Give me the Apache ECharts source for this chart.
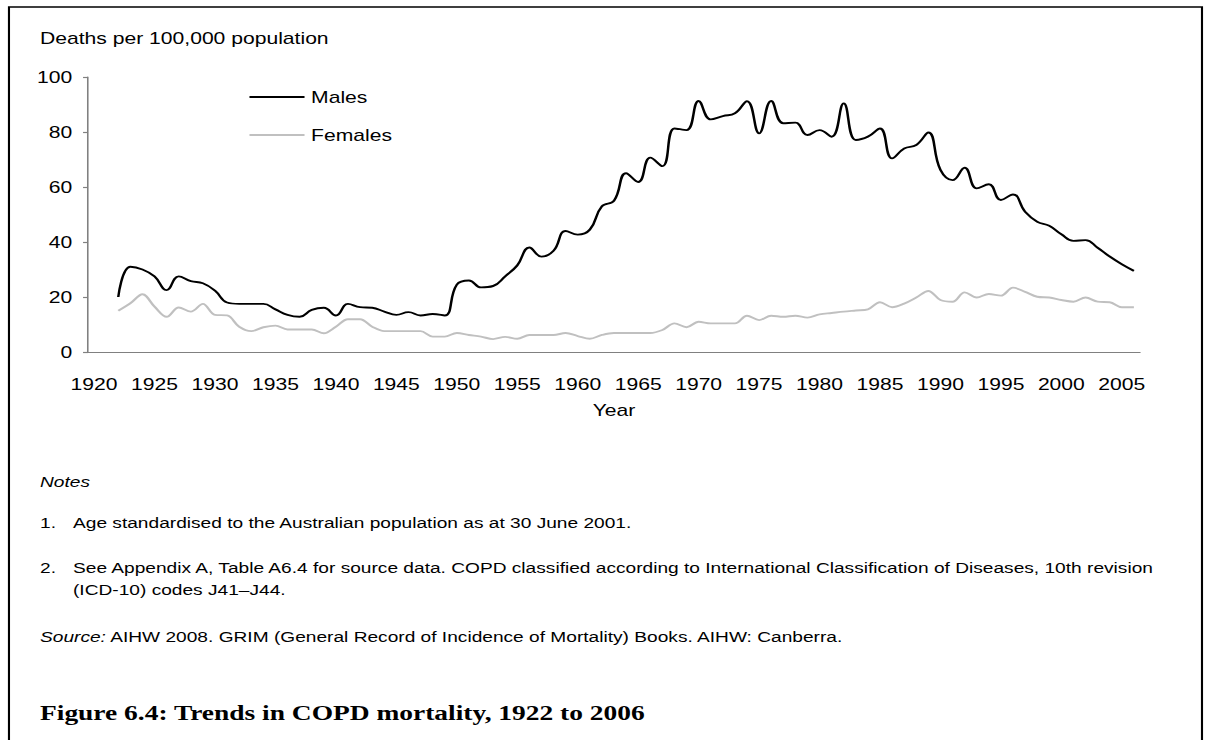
<!DOCTYPE html>
<html>
<head>
<meta charset="utf-8">
<script src="https://cdn.jsdelivr.net/npm/echarts@6/dist/echarts.min.js"></script>
<style>
  html, body { margin: 0; padding: 0; background: #fff; overflow: hidden; }
  /* the source figure is stretched sideways, so draw narrow and widen it */
  #chart { width: 916px; height: 740px; transform: scaleX(1.32); transform-origin: 0 0; }
</style>
</head>
<body>
<div id="chart"></div>
<script>
const years = [];
for (let y = 1920; y <= 2006; y++) years.push(String(y));

// deaths per 100,000, 1922 to 2006 (1920-21 have no data)
const males = [null, null,
  20, 31, 30, 27.5, 22.5, 27.5, 25.8, 25, 22.3, 18,
  17.5, 17.5, 17.5, 15.5, 13.5, 12.8, 15.3, 16.1, 13.3, 17.5,
  16.3, 16.1, 14.7, 13.5, 14.5, 13.3, 13.8, 13.3, 24.5, 26,
  23.5, 24, 27.5, 31.5, 38, 34.7, 36.8, 44, 42.7, 44.5,
  53, 55, 65, 61.8, 70.7, 67.6, 81.3, 80.7, 91.3, 84.6,
  85.8, 86.8, 91.2, 79.5, 91.3, 83.2, 83.4, 78.9, 80.7, 78.3,
  90.4, 77.1, 78.3, 81.3, 70.4, 74, 75.3, 79.8, 66.2, 62.5,
  67, 59.5, 61, 55.3, 57.3, 51, 47.4, 45.9, 42.8, 40.4,
  40.7, 37.9, 34.7, 31.9, 29.5];
const females = [null, null,
  15, 17.7, 21, 16.5, 12.8, 16.2, 14.7, 17.5, 13.5, 13.3,
  9.2, 7.6, 9, 9.6, 8.2, 8.2, 8.2, 6.8, 9.2, 11.9,
  11.9, 9.2, 7.6, 7.6, 7.6, 7.6, 5.6, 5.6, 6.9, 6.2,
  5.6, 4.7, 5.5, 4.8, 6.2, 6.2, 6.2, 6.9, 5.8, 4.8,
  6.2, 6.9, 6.9, 6.9, 6.9, 8, 10.4, 9, 11, 10.4,
  10.4, 10.4, 13.2, 11.6, 13.2, 12.8, 13.2, 12.5, 13.7, 14.2,
  14.7, 15.1, 15.5, 18.1, 16.3, 17.6, 19.8, 22.2, 18.9, 18.3,
  21.7, 19.8, 21.1, 20.5, 23.4, 21.9, 20.1, 19.8, 18.9, 18.3,
  19.8, 18.3, 18.1, 16.3, 16.3];
const yTicks = [0, 20, 40, 60, 80, 100];

const FONT = '"Liberation Sans", Arial, sans-serif';
const noteStyle = (text, extra) => Object.assign({
  text: text, fontSize: 14.5, fontFamily: FONT, fill: '#000', verticalAlign: 'middle'
}, extra || {});

const chart = echarts.init(document.getElementById('chart'), null, { renderer: 'svg' });

chart.setOption({
  animation: false,
  backgroundColor: '#fff',
  textStyle: { fontFamily: FONT, color: '#000' },
  grid: { left: 66.7, right: 52.4, top: 77, bottom: 388 },
  legend: {
    orient: 'vertical',
    left: 184,
    top: 84,
    icon: 'rect',
    itemWidth: 41.7,
    itemHeight: 1.8,
    itemGap: 22,
    textStyle: { fontSize: 16, fontFamily: FONT, color: '#000', lineHeight: 16 },
    data: ['Males', 'Females']
  },
  xAxis: {
    type: 'category',
    data: years,
    boundaryGap: true,
    name: 'Year',
    nameLocation: 'middle',
    nameGap: 50,
    nameTextStyle: { fontSize: 16, fontFamily: FONT, color: '#000' },
    axisLine: { lineStyle: { color: '#808080', width: 1.2 } },
    axisTick: { interval: 4, length: 5, lineStyle: { color: '#808080', width: 1 } },
    axisLabel: { interval: 4, margin: 24, fontSize: 16, fontFamily: FONT, color: '#000' },
    splitLine: { show: false }
  },
  yAxis: {
    type: 'value',
    min: yTicks[0],
    max: yTicks[yTicks.length - 1],
    interval: 20,
    axisLine: { show: true, lineStyle: { color: '#808080', width: 1.2 } },
    axisTick: { show: true, length: 3.8, lineStyle: { color: '#808080', width: 1.2 } },
    axisLabel: { margin: 12, fontSize: 16, fontFamily: FONT, color: '#000' },
    splitLine: { show: false }
  },
  series: [
    {
      name: 'Males',
      type: 'line',
      data: males,
      smooth: 0.45,
      showSymbol: false,
      color: '#000',
      lineStyle: { color: '#000', width: 1.9 }
    },
    {
      name: 'Females',
      type: 'line',
      data: females,
      smooth: 0.35,
      showSymbol: false,
      color: '#c0c0c0',
      lineStyle: { color: '#c0c0c0', width: 1.9 }
    }
  ],
  graphic: [
    {
      type: 'polyline',
      shape: { points: [[6.8, 745], [6.8, 7], [910.6, 7], [910.6, 745]] },
      style: { stroke: '#000', lineWidth: 1.6, fill: null }
    },
    { type: 'text', x: 30.3, y: 38, style: noteStyle('Deaths per 100,000 population', { fontSize: 16 }) },
    { type: 'text', x: 30.3, y: 482, style: noteStyle('Notes', { fontStyle: 'italic' }) },
    { type: 'text', x: 30.3, y: 523, style: noteStyle('1.') },
    { type: 'text', x: 55.3, y: 523, style: noteStyle('Age standardised to the Australian population as at 30 June 2001.') },
    { type: 'text', x: 30.3, y: 568, style: noteStyle('2.') },
    { type: 'text', x: 55.3, y: 568, style: noteStyle('See Appendix A, Table A6.4 for source data. COPD classified according to International Classification of Diseases, 10th revision') },
    { type: 'text', x: 55.3, y: 590, style: noteStyle('(ICD-10) codes J41\u2013J44.') },
    {
      type: 'text', x: 30.3, y: 637,
      style: noteStyle('{i|Source:} AIHW 2008. GRIM (General Record of Incidence of Mortality) Books. AIHW: Canberra.', {
        rich: { i: { fontStyle: 'italic', fontSize: 14.5, fontFamily: FONT, fill: '#000' } }
      })
    },
    {
      type: 'text', x: 30.3, y: 713,
      style: {
        text: 'Figure 6.4: Trends in COPD mortality, 1922 to 2006',
        fontSize: 20.8, fontWeight: 'bold',
        fontFamily: '"Liberation Serif", "Times New Roman", serif',
        fill: '#000', verticalAlign: 'middle'
      }
    }
  ]
});
</script>
</body>
</html>
